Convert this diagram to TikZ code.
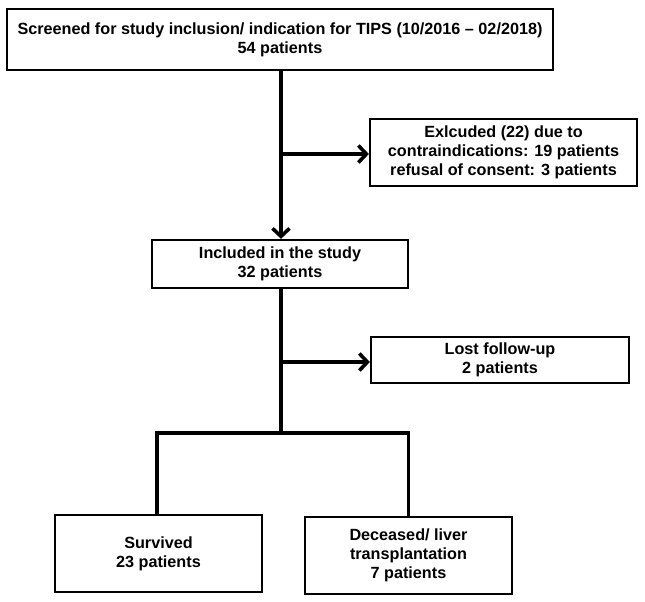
\documentclass[tikz,border=0pt]{standalone}
\usepackage{fontspec}
\setmainfont{Liberation Sans}
\usetikzlibrary{arrows.meta}
\begin{document}
\begin{tikzpicture}[x=1pt,y=-1pt,
  box/.style={draw,line width=2.3pt,align=center,inner sep=0pt,
    font=\fontsize{16.2}{18.7}\selectfont\bfseries},
  conn/.style={line width=3.6pt,line join=miter},
  arr/.style={conn,-{Straight Barb[length=8pt,width=17pt,line width=3.6pt]}}]
\useasboundingbox (0,0) rectangle (645,602);
\node[box,minimum width=546pt,minimum height=61pt] (top) at (280,39.5)
  {Screened for study inclusion/ indication for TIPS (10/2016 – 02/2018)\\54 patients};
\node[box,minimum width=267pt,minimum height=67pt] (excl) at (503.5,152.5)
  {Exlcuded (22) due to\\contraindications: 19 patients\\refusal of consent: 3 patients};
\node[box,minimum width=256pt,minimum height=48pt] (incl) at (280,264)
  {Included in the study\\32 patients};
\node[box,minimum width=258pt,minimum height=46pt] (lost) at (500,360)
  {Lost follow-up\\2 patients};
\node[box,minimum width=207pt,minimum height=77pt] (surv) at (158.5,553.5)
  {Survived\\23 patients};
\node[box,minimum width=207pt,minimum height=77pt] (dec) at (408.5,555.5)
  {Deceased/ liver\\transplantation\\7 patients};
\coordinate (b1) at (281,154);
\coordinate (b2) at (281,362);
\coordinate (j) at (281,433);
\draw[arr] (top.south -| b1) -- (incl.north -| b1);
\draw[arr] (b1) -- (b1 -| excl.west);
\draw[arr] (b2) -- (b2 -| lost.west);
\draw[conn] (incl.south -| j) -- (j);
\draw[conn] ([xshift=-1.5pt]surv.north) |- (j) -| (dec.north);
\end{tikzpicture}
\end{document}
